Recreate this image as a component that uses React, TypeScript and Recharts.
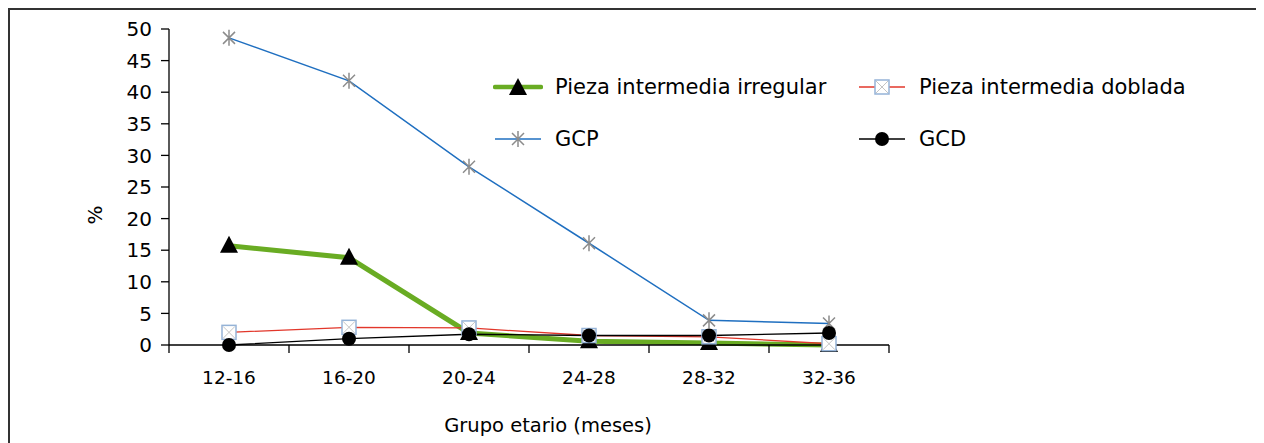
import { Legend, Line, LineChart, XAxis, YAxis } from "recharts";

const categories = ["12-16", "16-20", "20-24", "24-28", "28-32", "32-36"];
const irregular = [15.7, 13.8, 1.9, 0.6, 0.3, 0.0];
const doblada = [2.0, 2.8, 2.7, 1.5, 1.3, 0.2];
const gcp = [48.6, 41.8, 28.2, 16.1, 3.9, 3.4];
const gcd = [0.0, 1.0, 1.7, 1.5, 1.5, 1.9];
const yTicks = [0, 5, 10, 15, 20, 25, 30, 35, 40, 45, 50];
const xTicks = [0, 1, 2, 3, 4, 5, 6];

const data = categories.map((label, i) => ({
  label,
  pos: i + 0.5,
  irregular: irregular[i],
  doblada: doblada[i],
  gcp: gcp[i],
  gcd: gcd[i],
}));

type Kind = "triangle" | "square" | "star" | "circle";

const SERIES: { key: string; name: string; color: string; width: number; kind: Kind }[] = [
  { key: "irregular", name: "Pieza intermedia irregular", color: "#69ac23", width: 5, kind: "triangle" },
  { key: "doblada", name: "Pieza intermedia doblada", color: "#e2372b", width: 1.3, kind: "square" },
  { key: "gcp", name: "GCP", color: "#1f6fc0", width: 1.5, kind: "star" },
  { key: "gcd", name: "GCD", color: "#000000", width: 1.3, kind: "circle" },
];

const FONT = "'DejaVu Sans', Verdana, sans-serif";
const CHART_W = 1254;
const CHART_H = 433;
const PLOT_LEFT = 159;
const PLOT_W = 720;
const BAND = PLOT_W / categories.length;

function Marker({ kind, cx, cy }: { kind: Kind; cx: number; cy: number }) {
  if (cx == null || cy == null) return null;
  if (kind === "triangle") {
    return <polygon points={`${cx},${cy - 10} ${cx - 9},${cy + 7} ${cx + 9},${cy + 7}`} fill="#000" />;
  }
  if (kind === "square") {
    return (
      <g>
        <rect x={cx - 7} y={cy - 7} width={14} height={14} fill="#fff" stroke="#95b3d7" strokeWidth={1.5} />
        <path
          d={`M${cx - 6},${cy - 6}L${cx + 6},${cy + 6}M${cx + 6},${cy - 6}L${cx - 6},${cy + 6}`}
          stroke="#c4c4c4"
          strokeWidth={1}
        />
      </g>
    );
  }
  if (kind === "star") {
    return (
      <path
        d={`M${cx},${cy - 8}L${cx},${cy + 8}M${cx - 6},${cy - 6}L${cx + 6},${cy + 6}M${cx + 6},${cy - 6}L${cx - 6},${cy + 6}`}
        stroke="#8c8c8c"
        strokeWidth={1.5}
        fill="none"
      />
    );
  }
  return <circle cx={cx} cy={cy} r={7} fill="#000" />;
}

function CategoryTick(props: any) {
  const { x, y, payload } = props;
  const label = categories[payload?.value];
  if (!label) return null;
  return (
    <text x={x + BAND / 2} y={y} dy="0.71em" textAnchor="middle" fill="#000" fontSize={18.5} fontFamily={FONT}>
      {label}
    </text>
  );
}

function LegendContent() {
  return (
    <div
      style={{
        display: "grid",
        gridTemplateColumns: "364px 380px",
        rowGap: 26,
        fontFamily: FONT,
        fontSize: 21,
        color: "#000",
      }}
    >
      {SERIES.map((s) => (
        <div key={s.key} style={{ display: "flex", alignItems: "center", height: 26, whiteSpace: "nowrap" }}>
          <svg width={50} height={26} style={{ marginRight: 12, flex: "none" }}>
            <line
              x1={2}
              y1={13}
              x2={48}
              y2={13}
              stroke={s.color}
              strokeWidth={s.kind === "triangle" ? 4.5 : 1.5}
              strokeLinecap={s.kind === "triangle" ? "round" : "butt"}
            />
            <Marker kind={s.kind} cx={25} cy={s.kind === "triangle" ? 14 : 13} />
          </svg>
          <span>{s.name}</span>
        </div>
      ))}
    </div>
  );
}

export default function App() {
  return (
    <div
      style={{
        width: 1264,
        height: 435,
        borderTop: "2px solid #333",
        borderLeft: "2px solid #333",
        boxSizing: "border-box",
        background: "#fff",
        fontFamily: FONT,
      }}
    >
      <style>{"html,body{overflow:hidden}"}</style>
      <LineChart
        width={CHART_W}
        height={CHART_H}
        data={data}
        margin={{ top: 19, right: CHART_W - PLOT_LEFT - PLOT_W, bottom: 0, left: 0 }}
      >
        <XAxis
          dataKey="pos"
          type="number"
          domain={[0, 6]}
          ticks={xTicks}
          interval={0}
          height={98}
          tickSize={8}
          tickMargin={18}
          tick={<CategoryTick />}
          axisLine={{ stroke: "#000", strokeWidth: 1.3 }}
          tickLine={{ stroke: "#000", strokeWidth: 1.3 }}
          label={{
            value: "Grupo etario (meses)",
            position: "insideBottom",
            offset: 11,
            dx: 19,
            fill: "#000",
            fontSize: 19.5,
            fontFamily: FONT,
          }}
        />
        <YAxis
          type="number"
          domain={[0, 50]}
          ticks={yTicks}
          interval={0}
          width={PLOT_LEFT}
          tickSize={8}
          tickMargin={9}
          tick={{ fill: "#000", fontSize: 20, fontFamily: FONT }}
          axisLine={{ stroke: "#000", strokeWidth: 1.3 }}
          tickLine={{ stroke: "#000", strokeWidth: 1.3 }}
          label={{
            content: (p: any) => {
              const vb = p.viewBox || { x: 0, y: 19 };
              const x = vb.x + 85;
              const y = vb.y + 186;
              return (
                <text
                  x={x}
                  y={y}
                  textAnchor="middle"
                  dominantBaseline="central"
                  transform={`rotate(-90, ${x}, ${y})`}
                  fill="#000"
                  fontSize={20}
                  fontFamily={FONT}
                >
                  %
                </text>
              );
            },
          }}
        />
        <Legend
          layout="horizontal"
          verticalAlign="middle"
          wrapperStyle={{ left: 483, top: 64, width: 750 }}
          content={<LegendContent />}
        />
        {SERIES.map((s) => (
          <Line
            key={s.key}
            dataKey={s.key}
            name={s.name}
            type="linear"
            stroke={s.color}
            strokeWidth={s.width}
            isAnimationActive={false}
            dot={(p: any) => <Marker key={`${s.key}-${p.index}`} kind={s.kind} cx={p.cx} cy={p.cy} />}
            activeDot={false}
          />
        ))}
      </LineChart>
    </div>
  );
}
